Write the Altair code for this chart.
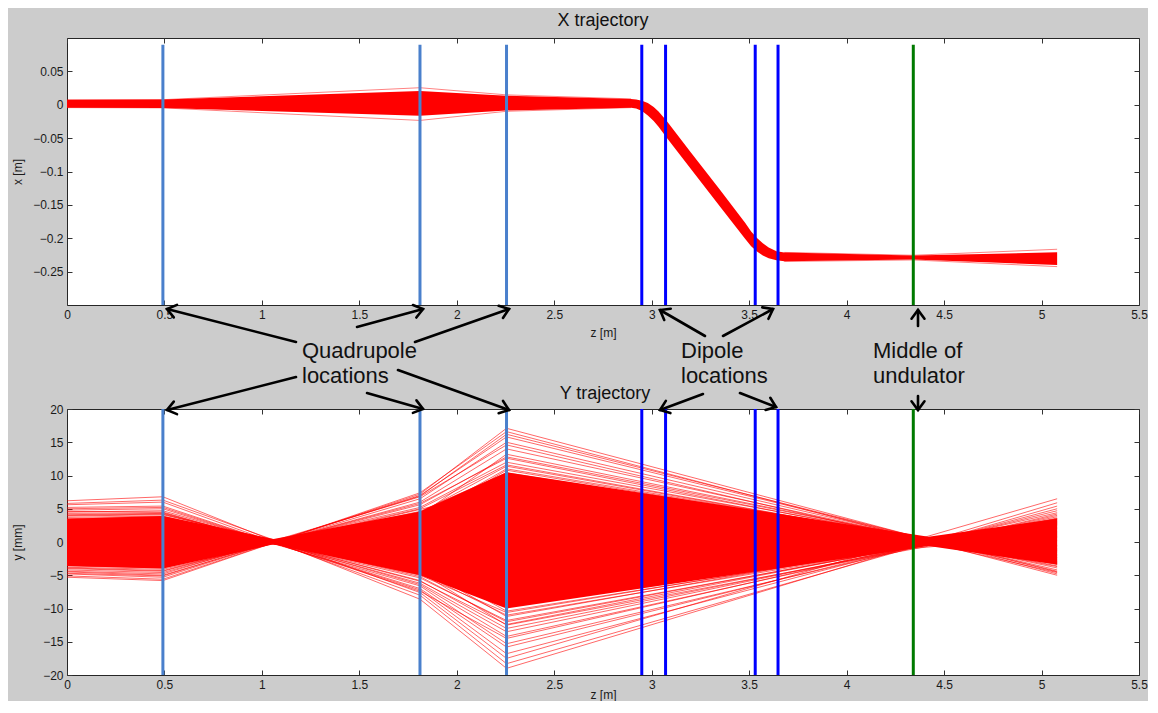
import math
import altair as alt
import pandas as pd

# ---------------- data ----------------
QUAD_Z = [0.492, 1.811, 2.255]
DIPOLE_Z = [2.949, 3.071, 3.531, 3.648]
UNDULATOR_Z = [4.342]

# X trajectory: dense bundle (upper / lower edge of the red band), x in metres
X_BAND_Z = [0.0, 0.492, 1.811, 2.255, 2.894, 2.92, 2.95, 2.98, 3.01, 3.035, 3.077,
            3.2, 3.35, 3.48, 3.51, 3.54, 3.57, 3.60, 3.64, 3.68, 4.342, 5.08]
X_BAND_UP = [0.0075, 0.0078, 0.0205, 0.0135, 0.0085, 0.0078, 0.0060, 0.0025, -0.0035,
             -0.0100, -0.0245, -0.0710, -0.1275, -0.1770, -0.1900, -0.1995, -0.2075,
             -0.2140, -0.2195, -0.2215, -0.2260, -0.2210]
X_BAND_LO = [-0.0045, -0.0048, -0.0165, -0.0085, -0.0045, -0.0058, -0.0095, -0.0160,
             -0.0245, -0.0330, -0.0495, -0.0960, -0.1525, -0.2010, -0.2120, -0.2200,
             -0.2260, -0.2300, -0.2330, -0.2345, -0.2320, -0.2400]
# outermost single trajectories (fringe)
X_EDGE_Z = [0.0, 0.492, 1.811, 2.255, 2.894]
X_EDGE_HI = [0.0072, 0.0076, 0.0255, 0.0148, 0.0088]
X_EDGE_LO = [-0.0043, -0.0047, -0.0235, -0.0098, -0.0043]
X_TAIL_Z = [3.68, 4.342, 5.08]
X_TAIL_HI = [-0.2212, -0.2255, -0.2165]
X_TAIL_LO = [-0.2348, -0.2325, -0.2425]

# Y trajectory (mm): dense core of the bundle
Y_CORE_Z = [0.0, 0.492, 1.06, 1.811, 2.255, 4.42, 5.08]
Y_CORE_UP = [3.5, 3.9, 0.45, 4.6, 10.5, 0.8, 3.5]
Y_CORE_LO = [-3.6, -4.0, -0.35, -5.0, -10.0, -0.6, -3.4]

# individual Y trajectories, values at the nodes below
Y_NODE_Z = [0.0, 0.492, 1.811, 2.255, 5.08]
Y_TRAJ = [
    [6.2, 6.8, -8.6, -19.0, 5.9],
    [5.6, 6.0, -8.0, -18.3, 5.4],
    [5.8, 6.3, -7.6, -17.5, 6.5],
    [4.8, 5.0, -7.0, -15.8, 4.7],
    [4.6, 4.5, -6.6, -15.3, 4.2],
    [4.3, 4.4, -6.2, -13.5, 3.8],
    [4.0, 4.2, -5.8, -13.0, 3.5],
    [3.7, 3.9, -5.2, -12.0, 3.4],
    [3.4, 3.6, -5.0, -10.6, 3.1],
    [3.1, 3.3, -4.4, -9.6, 2.5],
    [2.8, 3.0, -4.1, -8.2, 2.6],
    [2.4, 2.6, -3.6, -7.0, 2.2],
    [2.0, 2.2, -2.9, -5.6, 1.6],
    [1.6, 1.8, -2.4, -4.4, 1.4],
    [1.2, 1.3, -1.6, -3.2, 0.8],
    [0.8, 0.9, -1.0, -1.8, 0.7],
    [0.3, 0.4, -0.3, -0.4, 0.2],
    [-0.2, -0.2, 0.5, 1.2, -0.5],
    [-0.7, -0.7, 1.2, 2.6, -0.6],
    [-1.1, -1.2, 1.8, 3.9, -1.2],
    [-1.6, -1.7, 2.5, 5.2, -1.3],
    [-2.0, -2.2, 3.0, 6.6, -1.9],
    [-2.5, -2.7, 3.7, 7.8, -2.0],
    [-2.9, -3.2, 4.2, 9.2, -2.6],
    [-3.3, -3.6, 4.6, 10.4, -2.8],
    [-3.6, -3.9, 5.0, 11.6, -3.3],
    [-3.9, -4.3, 5.6, 12.8, -3.4],
    [-4.2, -4.6, 6.0, 14.0, -3.9],
    [-4.5, -5.0, 6.5, 15.0, -4.2],
    [-4.8, -5.3, 7.0, 15.8, -4.4],
    [-5.1, -5.6, 7.2, 17.1, -4.8],
    [3.9, 4.1, -4.8, -7.5, 2.0],
    [-3.8, -4.1, 4.9, 8.0, -2.4],
    [2.6, 2.9, -4.5, -12.5, 3.0],
    [-2.4, -2.6, 4.0, 13.2, -3.6],
    [1.0, 1.1, -2.2, -9.0, 2.8],
    [-1.0, -1.0, 2.0, 9.8, -2.3],
    [5.2, 5.4, -7.4, -14.5, 4.4],
    [-4.4, -4.8, 6.8, 14.6, -4.6],
    [0.5, 0.6, -1.5, -6.5, 1.0],
    [-0.4, -0.5, 1.5, 6.0, -1.0],
    [3.0, 3.2, -3.8, -5.0, 1.2],
    [-3.0, -3.4, 4.3, 5.8, -1.5],
    [2.2, 2.4, -3.8, -11.2, 3.5],
    [-2.0, -2.3, 3.6, 11.0, -2.9],
    [3.5, 3.8, -5.4, -11.8, 3.2],
    [-3.5, -3.8, 5.2, 12.0, -3.1],
    [2.9, 3.1, -4.6, -11.0, 2.9],
    [-2.8, -3.0, 4.4, 11.4, -3.2],
    [4.1, 4.3, -5.9, -12.4, 3.6],
    [-4.0, -4.4, 5.8, 12.6, -3.7],
    [1.8, 2.0, -3.2, -10.4, 2.7],
    [-1.8, -2.0, 3.2, 10.8, -3.0],
    [4.5, 4.7, -6.4, -14.2, 4.0],
    [-4.7, -5.1, 6.9, 16.2, -4.5],
    [5.0, 5.2, -7.2, -16.8, 5.0],
    [-5.3, -5.8, 7.4, 16.6, -5.0],
]

X_TICKS = [0, 0.5, 1, 1.5, 2, 2.5, 3, 3.5, 4, 4.5, 5, 5.5]
TOP_Y_TICKS = [-0.25, -0.2, -0.15, -0.1, -0.05, 0, 0.05]
BOT_Y_TICKS = [-20, -15, -10, -5, 0, 5, 10, 15, 20]

ANN_LINES = ["Quadrupole", "locations", "Dipole", "locations", "Middle of", "undulator"]

# ---------------- layout / style ----------------
FONT = "Liberation Sans"
W, H1, H2 = 1072, 267, 266
PLOT_LEFT, TOP1, TOP2 = 67, 39, 410
RED = "#ff0000"
QUAD_COL, DIP_COL, UND_COL = "#4a80cc", "#0000ff", "#007a00"

XS = alt.Scale(domain=[0, 5.5], nice=False, zero=False)
YS1 = alt.Scale(domain=[-0.3, 0.1], nice=False, zero=False)
YS2 = alt.Scale(domain=[-20, 20], nice=False, zero=False)


def ax_bottom(title_y):
    return alt.Axis(values=X_TICKS, format=".1~f", title="z [m]", orient="bottom",
                    offset=-5, tickSize=5, domain=False, grid=False, labelPadding=4,
                    labelFlush=False, labelOverlap=False, titleY=title_y,
                    titleBaseline="middle")


def ax_left(values, fmt, title):
    return alt.Axis(values=values, format=fmt, title=title, orient="left",
                    offset=-5, tickSize=5, domain=False, grid=False, labelPadding=4,
                    labelFlush=False, labelOverlap=False, titleX=-55, titleBaseline="middle")


def ax_top():
    return alt.Axis(values=X_TICKS, orient="top", offset=-5, tickSize=5, domain=False,
                    grid=False, labels=False, title=None)


def ax_right(values):
    return alt.Axis(values=values, orient="right", offset=-5, tickSize=5, domain=False,
                    grid=False, labels=False, title=None)


def markers(ylo, yhi):
    rows = []
    for z in QUAD_Z:
        rows.append({"z": z, "ylo": ylo, "yhi": yhi, "col": QUAD_COL})
    for z in DIPOLE_Z:
        rows.append({"z": z, "ylo": ylo, "yhi": yhi, "col": DIP_COL})
    for z in UNDULATOR_Z:
        rows.append({"z": z, "ylo": ylo, "yhi": yhi, "col": UND_COL})
    return pd.DataFrame(rows)


# ---------------- top panel ----------------
band = pd.DataFrame({"z": X_BAND_Z, "up": X_BAND_UP, "lo": X_BAND_LO})
edge_rows = []
for z, a, b in zip(X_EDGE_Z, X_EDGE_HI, X_EDGE_LO):
    edge_rows.append({"id": "e1", "z": z, "x": a})
    edge_rows.append({"id": "e2", "z": z, "x": b})
for z, a, b in zip(X_TAIL_Z, X_TAIL_HI, X_TAIL_LO):
    edge_rows.append({"id": "t1", "z": z, "x": a})
    edge_rows.append({"id": "t2", "z": z, "x": b})
edges = pd.DataFrame(edge_rows)

top_band = alt.Chart(band).mark_area(color=RED).encode(
    x=alt.X("z:Q", scale=XS, axis=ax_bottom(32)),
    y=alt.Y("up:Q", scale=YS1, axis=ax_left(TOP_Y_TICKS, ".2~f", "x [m]")),
    y2="lo:Q",
)
top_edges = alt.Chart(edges).mark_line(color=RED, strokeWidth=0.7, opacity=0.7).encode(
    x=alt.X("z:Q", scale=XS, axis=None),
    y=alt.Y("x:Q", scale=YS1, axis=None),
    detail="id:N",
)
top_marks = alt.Chart(markers(-0.3, 0.09)).mark_rule(strokeWidth=3).encode(
    x=alt.X("z:Q", scale=XS, axis=ax_top()),
    y=alt.Y("ylo:Q", scale=YS1, axis=ax_right(TOP_Y_TICKS)),
    y2="yhi:Q",
    color=alt.Color("col:N", scale=None),
)
top = alt.layer(top_band, top_edges, top_marks).resolve_axis(
    x="independent", y="independent"
).properties(
    width=W, height=H1,
    title=alt.Title("X trajectory", fontSize=18, font=FONT, fontWeight="normal",
                    color="#111111", offset=8),
)

# ---------------- bottom panel ----------------
core = pd.DataFrame({"z": Y_CORE_Z, "up": Y_CORE_UP, "lo": Y_CORE_LO})
traj_rows = []
for i, vals in enumerate(Y_TRAJ):
    for z, v in zip(Y_NODE_Z, vals):
        traj_rows.append({"id": i, "z": z, "y": v})
traj = pd.DataFrame(traj_rows)

bot_core = alt.Chart(core).mark_area(color=RED).encode(
    x=alt.X("z:Q", scale=XS, axis=ax_bottom(24)),
    y=alt.Y("up:Q", scale=YS2, axis=ax_left(BOT_Y_TICKS, "d", "y [mm]")),
    y2="lo:Q",
)
bot_lines = alt.Chart(traj).mark_line(color=RED, strokeWidth=0.7, opacity=0.85).encode(
    x=alt.X("z:Q", scale=XS, axis=None),
    y=alt.Y("y:Q", scale=YS2, axis=None),
    detail="id:N",
)
bot_marks = alt.Chart(markers(-20, 20)).mark_rule(strokeWidth=3).encode(
    x=alt.X("z:Q", scale=XS, axis=ax_top()),
    y=alt.Y("ylo:Q", scale=YS2, axis=ax_right(BOT_Y_TICKS)),
    y2="yhi:Q",
    color=alt.Color("col:N", scale=None),
)


# annotations (placed in the gap between the panels, in pixel terms)
def zx(px):
    return (px - PLOT_LEFT) * 5.5 / W


def yb(py):
    return 20 - (py - TOP2) * 40 / H2


ARROWS_PX = [
    (296, 343, 167, 310), (296, 378, 167, 411), (357, 328, 423, 310),
    (415, 343, 509, 310), (367, 394, 423, 410), (398, 371, 509, 411),
    (705, 337, 660, 311), (723, 337, 773, 310), (703, 395, 660, 411),
    (740, 394, 776, 408), (918, 327, 918, 311), (918, 397, 918, 411),
]
arr_rows = []
for (x0, y0, x1, y1) in ARROWS_PX:
    ang = math.degrees(math.atan2(y1 - y0, x1 - x0)) % 360
    arr_rows.append({"za": zx(x0), "ya": yb(y0), "zb": zx(x1), "yb": yb(y1), "ang": ang})
arrows = pd.DataFrame(arr_rows)

TEXT_PX = [(302, 352), (302, 377), (681, 352), (681, 377), (873, 352), (873, 377)]
texts = pd.DataFrame({
    "t": ANN_LINES,
    "z": [zx(p[0]) for p in TEXT_PX],
    "y": [yb(p[1]) for p in TEXT_PX],
})
ytitle = pd.DataFrame({"t": ["Y trajectory"], "z": [zx(605)], "y": [yb(395)]})

shafts = alt.Chart(arrows).mark_rule(color="black", strokeWidth=2.6, strokeCap="round").encode(
    x=alt.X("za:Q", scale=XS, axis=None),
    y=alt.Y("ya:Q", scale=YS2, axis=None),
    x2="zb:Q", y2="yb:Q",
)
heads = alt.Chart(arrows).mark_point(
    shape="M -1 -0.75 L 0 0 L -1 0.75", filled=False, size=300, color="black",
    strokeWidth=2.6, opacity=1, strokeCap="round", strokeJoin="miter",
).encode(
    x=alt.X("zb:Q", scale=XS, axis=None),
    y=alt.Y("yb:Q", scale=YS2, axis=None),
    angle=alt.Angle("ang:Q", scale=None),
)
labels = alt.Chart(texts).mark_text(
    align="left", baseline="middle", fontSize=22, font=FONT, color="#111111"
).encode(
    x=alt.X("z:Q", scale=XS, axis=None),
    y=alt.Y("y:Q", scale=YS2, axis=None),
    text="t:N",
)
ylabel = alt.Chart(ytitle).mark_text(
    align="center", baseline="middle", fontSize=18, font=FONT, color="#111111"
).encode(
    x=alt.X("z:Q", scale=XS, axis=None),
    y=alt.Y("y:Q", scale=YS2, axis=None),
    text="t:N",
)

bottom = alt.layer(bot_core, bot_lines, bot_marks, shafts, heads, labels, ylabel).resolve_axis(
    x="independent", y="independent"
).properties(width=W, height=H2)

chart = alt.vconcat(top, bottom, spacing=104).properties(
    bounds="flush",
    background="#cccccc",
    padding={"left": 2, "top": 3, "right": 0, "bottom": 0},
).configure_view(
    fill="white", stroke="#262626", strokeWidth=1
).configure_axis(
    labelFont=FONT, titleFont=FONT, labelFontSize=12, titleFontSize=12,
    labelColor="#1a1a1a", titleColor="#1a1a1a", tickColor="#333333",
    titleFontWeight="normal",
)

chart.save("out.html", embed_options={"renderer": "svg", "actions": False})
